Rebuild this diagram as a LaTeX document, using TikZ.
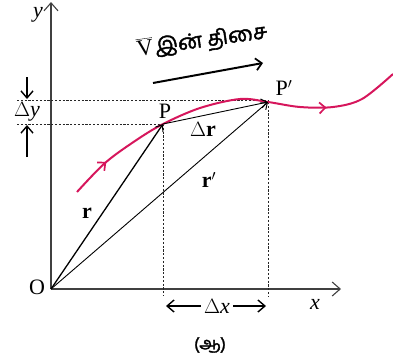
\documentclass[tikz,border=0pt]{standalone}
\usepackage{fontspec}
\setmainfont{Liberation Serif}
\newfontfamily\tamilfont[Script=Tamil,FakeBold=1.8]{Hind Madurai}
\usetikzlibrary{arrows.meta,decorations.markings}
\definecolor{curvecol}{RGB}{214,22,92}
\begin{document}
\begin{tikzpicture}[x=1pt,y=-1pt,
  axis/.style={line width=1.1pt,draw=black!75,-{Straight Barb[length=8pt,width=14pt,line width=1.1pt]}},
  vec/.style={line width=#1,-{Straight Barb[length=6pt,width=9pt,line width=1pt]}},
  vec/.default=0.9pt,
  guide/.style={dash pattern=on 2.2pt off 1.6pt,line width=0.9pt,draw=black!85},
  dim/.style={line width=1.5pt,-{Straight Barb[length=7pt,width=12pt,line width=1.4pt]}},
  lab/.style={font=\fontsize{22}{24}\selectfont,inner sep=0pt},
  tam/.style={font=\tamilfont\fontsize{17}{20}\selectfont,inner sep=0pt}]
\useasboundingbox (0,0) rectangle (393,362);
% axes
\coordinate (O) at (51,289);
\coordinate (ytop) at (51,2);
\coordinate (xend) at (341,289);
\draw[axis] (O) -- (ytop);
\draw[axis] (O) -- (xend);
\node[lab] (Olab) at (37,287) {O};
\node[lab] (xlab) at (315,304) {\textit{x}};
\node[lab] (ylab) at (38,15) {\textit{y}};
% points
\coordinate (P) at (163,124);
\coordinate (Pp) at (268,102);
% guides
\coordinate (h1) at (17,100);
\coordinate (h2) at (17,124);
\coordinate (v1) at (163,296);
\coordinate (v2) at (268,296);
\draw[guide] (h1) -- (268,100);
\draw[guide] (h2) -- (P);
\draw[guide] (P) -- (v1);
\draw[guide] (Pp) -- (v2);
% curve
\draw[curvecol,line width=2pt,
  postaction={decorate,decoration={markings,
    mark=at position 42pt with {\arrow{Straight Barb[length=6pt,width=11pt,line width=1.7pt]}},
    mark=at position 279pt with {\arrow{Straight Barb[length=6pt,width=11pt,line width=1.7pt]}}}}]
  plot[smooth,tension=0.55] coordinates {(77,192) (105,163) (135,141) (163,124) (200,108) (240,99) (268,102) (300,107) (333,107) (362,99) (393,74)};
% vectors
\draw[vec=1.3pt] (O) -- (P);
\draw[vec=0.9pt] (O) -- (Pp);
\draw[vec=0.9pt] (P) -- (Pp);
\node[lab] (Plab) at (165,111) {P};
\node[lab] (Pplab) at (284,88) {P$'$};
\node[lab] (rlab) at (87,213) {\textbf{r}};
\node[lab] (rplab) at (209,180) {\textbf{r$'$}};
\node[lab] (drlab) at (203,129) {$\Delta$\textbf{r}};
% delta y
\node[lab] (dylab) at (27,112) {$\Delta$\textit{y}};
\coordinate (dyt) at (27,77);
\coordinate (dyb) at (27,157);
\draw[dim] (dyt) -- (27,99);
\draw[dim] (dyb) -- (27,125);
% delta x
\node[lab] (dxlab) at (217,306) {$\Delta$\textit{x}};
\draw[dim] (dxlab.west) ++(-3,0) -- (166,306);
\draw[dim] (dxlab.east) ++(3,0) -- (266,306);
% direction
\node[rotate=8,inner sep=0pt] (vtext) at (202,41) {{\fontsize{23}{25}\selectfont$\overline{\mathrm{V}}$}\,{\tamilfont\fontsize{21}{24}\selectfont இன் திசை}};
\coordinate (da) at (153,83);
\coordinate (db) at (263,63);
\draw[line width=2pt,-{Straight Barb[length=6pt,width=12pt,line width=1.7pt]}] (da) -- (db);
% caption
\node[tam] (cap) at (210,345) {(ஆ)};
\end{tikzpicture}
\end{document}
